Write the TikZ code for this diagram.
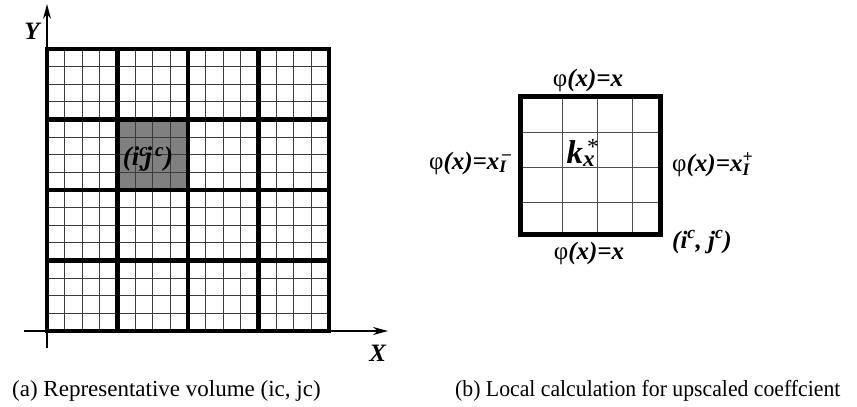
\documentclass[tikz,border=0pt]{standalone}
\usepackage{fontspec}
\usepackage{graphicx}
\setmainfont{Liberation Serif}
\usetikzlibrary{arrows.meta}
\definecolor{cellgray}{RGB}{128,128,128}
\definecolor{fineline}{RGB}{60,60,60}
\newcommand\bi[1]{\textbf{\textit{#1}}}
\newcommand\supsub[2]{\rlap{\textsuperscript{#1}}\textsubscript{#2}}
\begin{document}
\begin{tikzpicture}[x=1pt,y=-1pt,
  fine/.style={line width=1.1pt,draw=fineline},
  coarse/.style={line width=4.5pt,draw=black,line cap=rect},
  boxfine/.style={line width=0.9pt,draw=black!70},
  boxouter/.style={line width=5pt,draw=black,line cap=rect},
  axis/.style={line width=1.6pt,-{Stealth[length=15pt,width=8pt]}},
  lbl/.style={font=\fontsize{25}{27}\selectfont,inner sep=0pt},
  captext/.style={font=\fontsize{23}{25}\selectfont,inner sep=0pt,anchor=base west}]
\useasboundingbox (0,0) rectangle (857,407);
% ---- left: representative volume
\fill[cellgray] (117.5,119.5) rectangle (188,190);
\foreach \i in {1,...,15}{
  \draw[fine] ({47+\i*282/16},49) -- ({47+\i*282/16},331);
  \draw[fine] (47,{49+\i*282/16}) -- (329,{49+\i*282/16});
}
\foreach \i in {1,2,3}{
  \draw[coarse] ({47+\i*70.5},49) -- ({47+\i*70.5},331);
  \draw[coarse] (47,{49+\i*70.5}) -- (329,{49+\i*70.5});
}
\draw[coarse] (47,49) rectangle (329,331);
\coordinate (ybot) at (47,348);
\coordinate (ytop) at (47,4);
\coordinate (xleft) at (24,331);
\coordinate (xright) at (388,331);
\draw[axis] (ybot) -- (ytop);
\draw[axis] (xleft) -- (xright);
\node[lbl] (ylab) at (33,31) {\bi{Y}};
\node[lbl] (xlab) at (378,353) {\bi{X}};
\node[lbl,font=\fontsize{27}{29}\selectfont] (cell) at (148,159) {\bi{(i\supsub{c}{,}j\textsuperscript{\,c})}};
% ---- right: local calculation
\foreach \x in {562,597,632}{
  \draw[boxfine] (\x,96) -- (\x,234);
}
\foreach \y in {132,167,202}{
  \draw[boxfine] (520,\y) -- (660,\y);
}
\draw[boxouter] (520,96) rectangle (660,234);
\node[lbl] (top) at (588,80) {φ\bi{(x)=x}};
\node[lbl] (bottom) at (589,253) {φ\bi{(x)=x}};
\node[lbl,anchor=east] (left) at (507,163) {φ\bi{(x)=x\supsub{\,\textendash}{I}}};
\node[lbl,anchor=west] (right) at (672,165) {φ\bi{(x)=x\supsub{+}{I}}};
\node[lbl,anchor=west] (ij) at (672,242) {\bi{(i\textsuperscript{c}, j\textsuperscript{c})}};
\node[inner sep=0pt,font=\fontsize{33}{35}\selectfont] (k) at (581,153) {\bi{k}\supsub{\,*}{\bi{x}}};
% ---- captions
\node[captext] (capa) at (12,396) {(a) Representative volume (ic, jc)};
\node[captext] (capb) at (455,396) {\scalebox{0.945}[1]{(b) Local calculation for upscaled coeffcient}};
\end{tikzpicture}
\end{document}
